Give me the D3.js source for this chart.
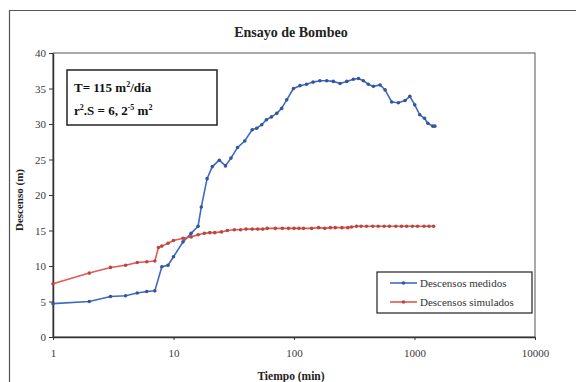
<!DOCTYPE html>
<html>
<head>
<meta charset="utf-8">
<script src="https://cdn.jsdelivr.net/npm/d3@7"></script>
<style>
  body { margin: 0; background: #fff; }
  svg text { font-family: "Liberation Serif", "Times New Roman", Times, "DejaVu Serif", serif !important; }
</style>
</head>
<body>
<script>
// measured drawdown (blue)
let medTime = [1, 2, 3, 4, 5, 6, 7, 8, 9, 10, 12, 14, 16, 17, 19, 21, 24, 27, 30, 34, 39, 45, 49, 54, 59, 65, 72, 79, 87, 99,
  112, 127, 144, 164, 187, 212, 241, 274, 311, 343, 376, 414, 456, 518, 570, 647, 735, 835, 915, 1005, 1106, 1210, 1290, 1420, 1475];
let medValue = [4.7, 5.0, 5.7, 5.8, 6.2, 6.4, 6.5, 9.9, 10.1, 11.3, 13.4, 14.6, 15.6, 18.3, 22.3, 24.0, 24.9, 24.1, 25.2, 26.7, 27.6, 29.2, 29.4, 29.9, 30.6, 31.0, 31.5, 32.2, 33.4, 35.0,
  35.4, 35.6, 35.9, 36.1, 36.1, 36.0, 35.7, 36.0, 36.3, 36.4, 36.1, 35.6, 35.3, 35.5, 34.8, 33.1, 33.0, 33.3, 33.9, 32.7, 31.3, 30.8, 30.1, 29.7, 29.7];

// simulated drawdown (red)
let simTime = [1, 2, 3, 4, 5, 6, 7, 7.5, 8, 9, 10, 12, 14, 16, 18, 20, 22, 25, 28, 32, 36, 40, 45, 50, 55, 60, 70, 80, 90, 100,
  110, 120, 140, 160, 180, 200, 220, 250, 280, 300, 330, 360, 400, 450, 500, 560, 620, 700, 780, 860, 960, 1060, 1200, 1320, 1440];
let simValue = [7.5, 9.0, 9.8, 10.1, 10.5, 10.6, 10.7, 12.6, 12.8, 13.2, 13.6, 13.9, 14.1, 14.4, 14.6, 14.7, 14.7, 14.8, 15.0, 15.1, 15.1, 15.2, 15.2, 15.2, 15.2, 15.3, 15.3, 15.3, 15.3, 15.3,
  15.3, 15.3, 15.3, 15.4, 15.3, 15.4, 15.4, 15.4, 15.4, 15.5, 15.6, 15.6, 15.6, 15.6, 15.6, 15.6, 15.6, 15.6, 15.6, 15.6, 15.6, 15.6, 15.6, 15.6, 15.6];

let xTicks = [1, 10, 100, 1000, 10000];
let yTicks = [0, 5, 10, 15, 20, 25, 30, 35, 40];
let seriesNames = ["Descensos medidos", "Descensos simulados"];
let seriesColors = ["#4069bd", "#e4584f"];

let svg = null;
let x, y = null;
let plot = { left: 53, right: 535, top: 53, bottom: 337 };
let serif = "Liberation Serif, Times New Roman, DejaVu Serif, serif";

main();

function main() {
  appendSvg("body");
  drawFrame();
  setupScales();
  drawAxes();
  drawSeries(medTime, medValue, seriesColors[0]);
  drawSeries(simTime, simValue, seriesColors[1]);
  drawLabels();
  drawInfoBox();
  drawLegend();
}

function appendSvg(domElement) {
  svg = d3.select(domElement).append("svg")
    .attr("width", 576)
    .attr("height", 382)
    .attr("font-family", serif);
}

function drawFrame() {
  // outer chart border (only left and top visible in the scan)
  svg.append("path")
    .attr("d", "M9.5,382 V10.5 H576")
    .attr("fill", "none")
    .attr("stroke", "#555")
    .attr("stroke-width", 1.2);
}

function setupScales() {
  x = d3.scaleLog().domain([1, 10000]).range([plot.left, plot.right]);
  y = d3.scaleLinear().domain([0, 40]).range([plot.bottom, plot.top]);
}

function drawAxes() {
  // plot area box
  svg.append("rect")
    .attr("x", plot.left).attr("y", plot.top)
    .attr("width", plot.right - plot.left)
    .attr("height", plot.bottom - plot.top)
    .attr("fill", "none")
    .attr("stroke", "#555")
    .attr("stroke-width", 1);

  let xa = svg.append("g")
    .attr("transform", `translate(0, ${plot.bottom})`)
    .call(d3.axisBottom(x).tickValues(xTicks).tickFormat(d3.format("d")).tickSize(3).tickSizeOuter(0).tickPadding(9));

  let ya = svg.append("g")
    .attr("transform", `translate(${plot.left}, 0)`)
    .call(d3.axisLeft(y).tickValues(yTicks).tickSize(4).tickSizeOuter(0).tickPadding(3));

  [xa, ya].forEach(function (a) {
    a.attr("font-family", serif).attr("font-size", 11);
    a.select(".domain").attr("stroke", "#333").attr("stroke-width", 1.5);
    a.selectAll(".tick line").attr("stroke", "#333");
    a.selectAll("text").attr("fill", "#3a3a3a");
  });
}

function drawSeries(times, values, color) {
  let pts = times.map(function (t, i) { return [t, values[i]]; });
  let line = d3.line()
    .x(function (d) { return x(d[0]); })
    .y(function (d) { return y(d[1]); });

  svg.append("path")
    .datum(pts)
    .attr("d", line)
    .attr("fill", "none")
    .attr("stroke", color)
    .attr("stroke-width", 1.6);

  svg.append("g").selectAll("circle")
    .data(pts)
    .enter()
    .append("circle")
    .attr("cx", function (d) { return x(d[0]); })
    .attr("cy", function (d) { return y(d[1]); })
    .attr("r", 1.8)
    .attr("fill", d3.color(color).darker(0.6));
}

function drawLabels() {
  svg.append("text")
    .attr("x", 291)
    .attr("y", 37)
    .attr("text-anchor", "middle")
    .style("font-size", "14px")
    .style("font-weight", "bold")
    .attr("fill", "#222")
    .text("Ensayo de Bombeo");

  svg.append("text")
    .attr("x", 291)
    .attr("y", 380)
    .attr("text-anchor", "middle")
    .style("font-size", "11.5px")
    .style("font-weight", "bold")
    .attr("fill", "#222")
    .text("Tiempo (min)");

  svg.append("text")
    .attr("transform", "translate(23, 200) rotate(-90)")
    .attr("text-anchor", "middle")
    .style("font-size", "11px")
    .style("font-weight", "bold")
    .attr("fill", "#222")
    .text("Descenso (m)");
}

function drawInfoBox() {
  svg.append("rect")
    .attr("x", 67).attr("y", 70)
    .attr("width", 150).attr("height", 55)
    .attr("fill", "#fff")
    .attr("stroke", "#222")
    .attr("stroke-width", 1.5);

  let t1 = svg.append("text")
    .attr("x", 74).attr("y", 92)
    .style("font-size", "13px")
    .style("font-weight", "bold")
    .attr("fill", "#111");
  t1.append("tspan").text("T= 115 m");
  t1.append("tspan").attr("dy", -5).style("font-size", "8px").text("2");
  t1.append("tspan").attr("dy", 5).text("/día");

  let t2 = svg.append("text")
    .attr("x", 74).attr("y", 115)
    .style("font-size", "13px")
    .style("font-weight", "bold")
    .attr("fill", "#111");
  t2.append("tspan").text("r");
  t2.append("tspan").attr("dy", -5).style("font-size", "8px").text("2");
  t2.append("tspan").attr("dy", 5).text(".S = 6, 2");
  t2.append("tspan").attr("dy", -5).style("font-size", "8px").text("-5");
  t2.append("tspan").attr("dy", 5).text(" m");
  t2.append("tspan").attr("dy", -5).style("font-size", "8px").text("2");
}

function drawLegend() {
  let lg = svg.append("g").attr("transform", "translate(377, 272)");
  lg.append("rect")
    .attr("width", 155).attr("height", 41)
    .attr("fill", "#fff")
    .attr("stroke", "#222")
    .attr("stroke-width", 1.2);

  seriesNames.forEach(function (name, i) {
    let yy = 11 + i * 19;
    lg.append("line")
      .attr("x1", 13).attr("x2", 40)
      .attr("y1", yy).attr("y2", yy)
      .attr("stroke", seriesColors[i])
      .attr("stroke-width", 1.6);
    lg.append("circle")
      .attr("cx", 26.5).attr("cy", yy).attr("r", 1.8)
      .attr("fill", d3.color(seriesColors[i]).darker(0.6));
    lg.append("text")
      .attr("x", 43).attr("y", yy + 3.5)
      .style("font-size", "11px")
      .attr("fill", "#333")
      .text(name);
  });
}
</script>
</body>
</html>
